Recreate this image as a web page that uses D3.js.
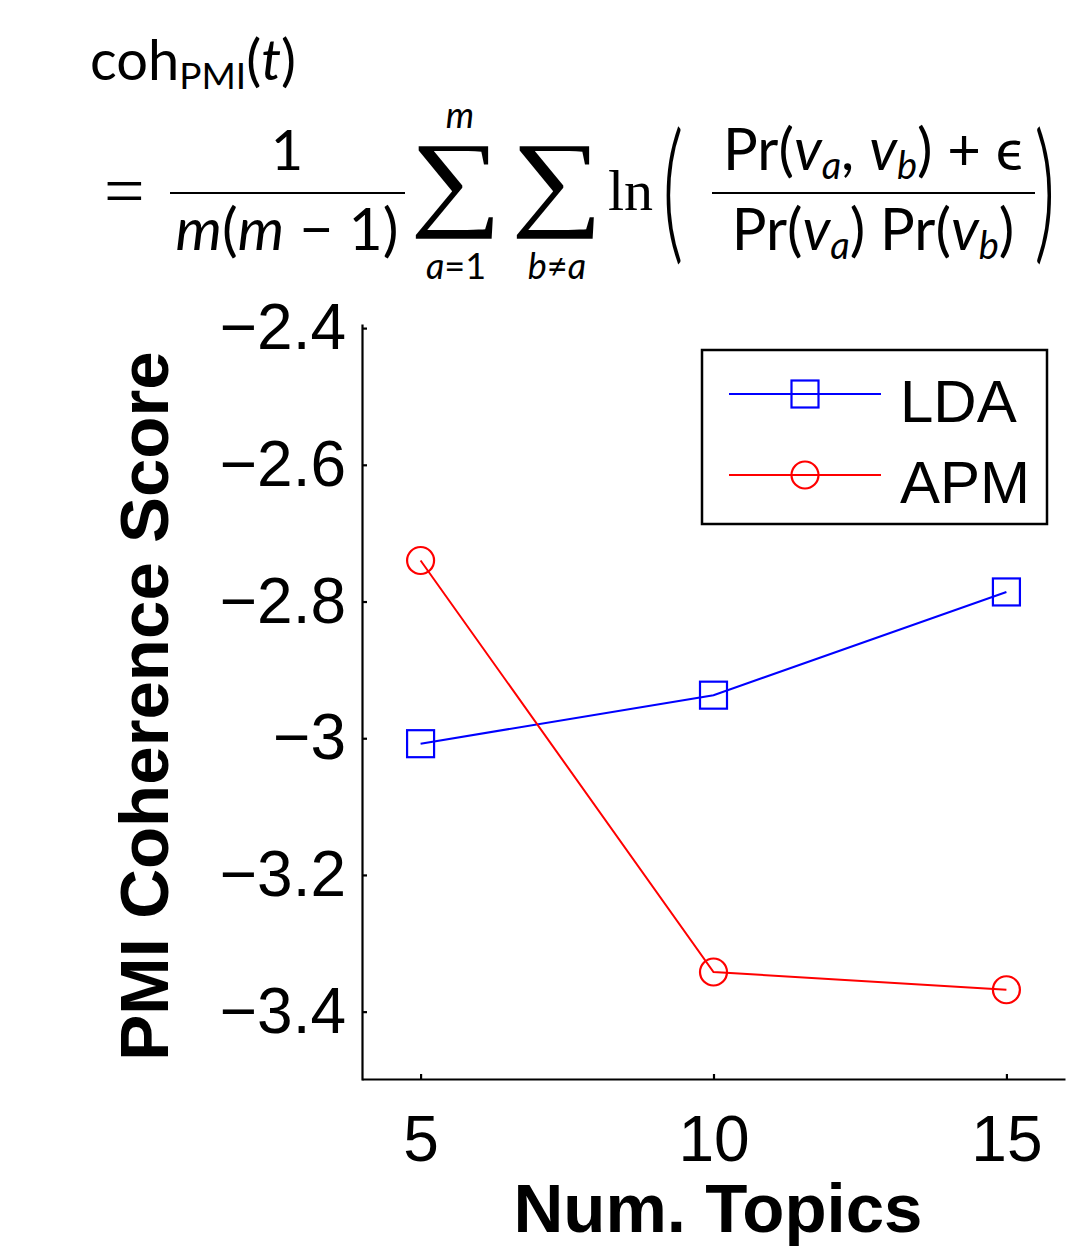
<!DOCTYPE html>
<html>
<head>
<meta charset="utf-8">
<script src="https://cdn.jsdelivr.net/npm/d3@7"></script>
<style>
  body { margin: 0; background: #fff; }
  svg text { font-family: "Liberation Sans", Arial, sans-serif; }
  .fx text { font-family: Lato, "Noto Sans", sans-serif; fill: #000; }
  .fx .serif { font-family: "Liberation Serif", "DejaVu Serif", serif; }
</style>
</head>
<body>
<svg id="chart"></svg>
<script>
// values
var topics = [5, 10, 15];
var ldaScores = [-3.008, -2.937, -2.786];
var apmScores = [-2.740, -3.342, -3.368];
var xTicks = [5, 10, 15];
var yTicks = [-2.4, -2.6, -2.8, -3, -3.2, -3.4];
var seriesNames = ["LDA", "APM"];
var seriesColors = ["#0000ff", "#ff0000"];

var W = 1079, H = 1248;

var svg = d3.select("#chart")
    .attr("width", W)
    .attr("height", H);

var x = d3.scaleLinear().domain([4, 16]).range([362, 1065]);
var y = d3.scaleLinear().domain([-3.5, -2.394]).range([1080, 324]);

/* ---------- formula ---------- */
var fx = svg.append("g").attr("class", "fx");

var t1 = fx.append("text").attr("x", 90).attr("y", 80).style("font-size", "56px");
t1.append("tspan").text("coh");
t1.append("tspan").attr("dy", 9).style("font-size", "37px").text("PMI");
t1.append("tspan").attr("dy", -9).text("(");
t1.append("tspan").style("font-style", "italic").text("t");
t1.append("tspan").text(")");

fx.append("text").attr("class", "serif").attr("x", 104).attr("y", 215)
    .style("font-size", "72px").text("=");

fx.append("text").attr("x", 287).attr("y", 170).attr("text-anchor", "middle")
    .style("font-size", "56px").text("1");
fx.append("line").attr("x1", 170).attr("x2", 405).attr("y1", 193).attr("y2", 193)
    .attr("stroke", "#000").attr("stroke-width", 2.2);
var den1 = fx.append("text").attr("x", 287).attr("y", 250).attr("text-anchor", "middle")
    .style("font-size", "59px");
den1.append("tspan").style("font-style", "italic").text("m");
den1.append("tspan").text("(");
den1.append("tspan").style("font-style", "italic").text("m");
den1.append("tspan").text(" − 1)");

[[456, "a=1"], [557, "b≠a"]].forEach(function(d) {
  fx.append("text").attr("class", "serif")
      .attr("transform", "translate(0,216) scale(1.15,0.95)")
      .attr("x", d[0] / 1.15).attr("y", 0)
      .attr("text-anchor", "middle").style("font-size", "112px").text("∑");
  var lo = fx.append("text").attr("x", d[0]).attr("y", 279)
      .attr("text-anchor", "middle").style("font-size", "36px");
  lo.append("tspan").style("font-style", "italic").text(d[1].charAt(0));
  lo.append("tspan").text(d[1].charAt(1));
  lo.append("tspan").style("font-style", d[1].charAt(2) === "1" ? "normal" : "italic").text(d[1].charAt(2));
});
fx.append("text").attr("x", 460).attr("y", 128).attr("text-anchor", "middle")
    .style("font-size", "36px").style("font-style", "italic").text("m");

fx.append("text").attr("class", "serif").attr("x", 608).attr("y", 210)
    .style("font-size", "58px").text("ln");

fx.append("text").attr("x", 0).attr("y", 0)
    .attr("transform", "translate(662,244) scale(1.5,2.75)")
    .style("font-size", "56px").style("font-weight", 300).text("(");
fx.append("text").attr("x", 0).attr("y", 0)
    .attr("transform", "translate(1034,244) scale(1.5,2.75)")
    .style("font-size", "56px").style("font-weight", 300).text(")");

var num = fx.append("text").attr("x", 873).attr("y", 170).attr("text-anchor", "middle")
    .style("font-size", "58px");
num.append("tspan").text("Pr(");
num.append("tspan").style("font-style", "italic").text("v");
num.append("tspan").attr("dy", 9).style("font-size", "38px").style("font-style", "italic").text("a");
num.append("tspan").attr("dy", -9).text(", ");
num.append("tspan").style("font-style", "italic").text("v");
num.append("tspan").attr("dy", 9).style("font-size", "38px").style("font-style", "italic").text("b");
num.append("tspan").attr("dy", -9).text(") + ϵ");

fx.append("line").attr("x1", 712).attr("x2", 1035).attr("y1", 193).attr("y2", 193)
    .attr("stroke", "#000").attr("stroke-width", 2.2);

var den2 = fx.append("text").attr("x", 873).attr("y", 250).attr("text-anchor", "middle")
    .style("font-size", "58px");
den2.append("tspan").text("Pr(");
den2.append("tspan").style("font-style", "italic").text("v");
den2.append("tspan").attr("dy", 9).style("font-size", "38px").style("font-style", "italic").text("a");
den2.append("tspan").attr("dy", -9).text(") Pr(");
den2.append("tspan").style("font-style", "italic").text("v");
den2.append("tspan").attr("dy", 9).style("font-size", "38px").style("font-style", "italic").text("b");
den2.append("tspan").attr("dy", -9).text(")");

/* ---------- axes ---------- */
var xAxis = svg.append("g")
    .attr("transform", "translate(0,1079)")
    .call(d3.axisBottom(x).tickValues(xTicks).tickSize(-5).tickSizeOuter(0).tickPadding(37));
var yAxis = svg.append("g")
    .attr("transform", "translate(362,0)")
    .call(d3.axisLeft(y).tickValues(yTicks).tickFormat(d3.format("~g"))
      .tickSize(-5).tickSizeOuter(0).tickPadding(16));

[xAxis, yAxis].forEach(function(a) {
  a.select(".domain").attr("stroke-width", 2.2);
  a.selectAll(".tick line").attr("stroke-width", 2.2);
  a.selectAll(".tick text").style("font-size", "64px").attr("fill", "#000");
});

svg.append("text")
    .attr("transform", "translate(168,706) rotate(-90)")
    .attr("text-anchor", "middle")
    .style("font-size", "69px").style("font-weight", "bold")
    .text("PMI Coherence Score");

svg.append("text")
    .attr("x", 718).attr("y", 1232)
    .attr("text-anchor", "middle")
    .style("font-size", "69px").style("font-weight", "bold")
    .text("Num. Topics");

/* ---------- series ---------- */
var series = [ldaScores, apmScores];
var line = d3.line()
    .x(function(d, i) { return x(topics[i]); })
    .y(function(d) { return y(d); });

series.forEach(function(vals, s) {
  svg.append("path")
      .datum(vals)
      .attr("d", line)
      .attr("fill", "none")
      .attr("stroke", seriesColors[s])
      .attr("stroke-width", 2);

  if (s === 0) {
    svg.selectAll(".sq")
        .data(vals)
        .enter().append("rect")
        .attr("x", function(d, i) { return x(topics[i]) - 13.5; })
        .attr("y", function(d) { return y(d) - 13.5; })
        .attr("width", 27).attr("height", 27)
        .attr("fill", "none")
        .attr("stroke", seriesColors[s]).attr("stroke-width", 2.2);
  } else {
    svg.selectAll(".ci")
        .data(vals)
        .enter().append("circle")
        .attr("cx", function(d, i) { return x(topics[i]); })
        .attr("cy", function(d) { return y(d); })
        .attr("r", 13.5)
        .attr("fill", "none")
        .attr("stroke", seriesColors[s]).attr("stroke-width", 2.2);
  }
});

/* ---------- legend ---------- */
var legend = svg.append("g").attr("transform", "translate(702,350)");
legend.append("rect")
    .attr("width", 345).attr("height", 174)
    .attr("fill", "#fff").attr("stroke", "#000").attr("stroke-width", 2.5);

seriesNames.forEach(function(name, i) {
  var row = legend.append("g").attr("transform", "translate(0," + (44 + i * 81) + ")");
  row.append("line")
      .attr("x1", 27).attr("x2", 179)
      .attr("stroke", seriesColors[i]).attr("stroke-width", 2);
  if (i === 0) {
    row.append("rect").attr("x", 103 - 13.5).attr("y", -13.5).attr("width", 27).attr("height", 27)
        .attr("fill", "none").attr("stroke", seriesColors[i]).attr("stroke-width", 2.2);
  } else {
    row.append("circle").attr("cx", 103).attr("r", 13.5)
        .attr("fill", "none").attr("stroke", seriesColors[i]).attr("stroke-width", 2.2);
  }
  row.append("text")
      .attr("x", 198).attr("y", 28)
      .style("font-size", "60px")
      .text(name);
});
</script>
</body>
</html>
